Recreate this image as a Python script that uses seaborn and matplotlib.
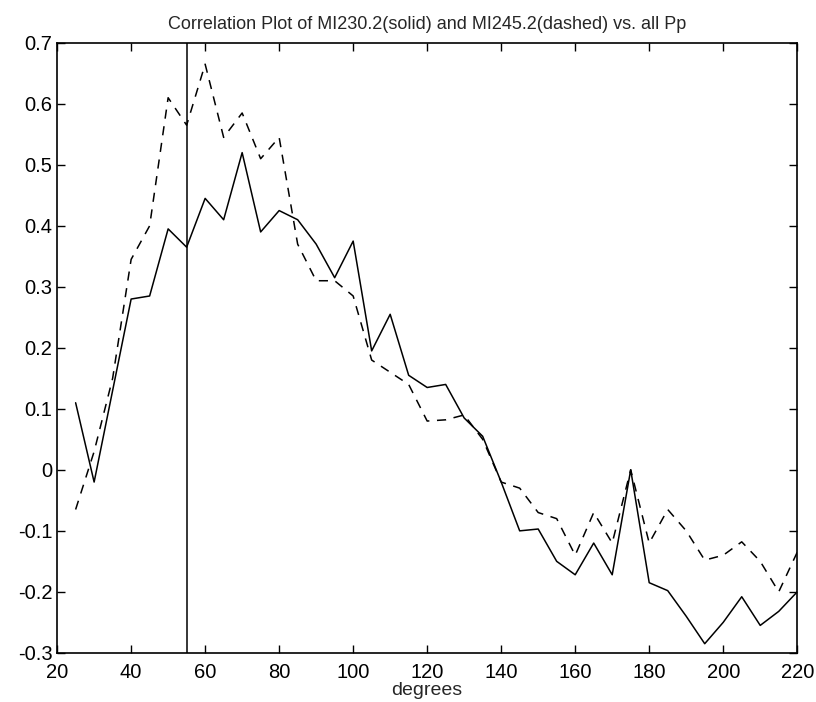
import matplotlib
matplotlib.use("Agg")
import matplotlib.pyplot as plt
import pandas as pd
import seaborn as sns

degrees = list(range(25, 225, 5))

# MI230.2 (solid)
mi230 = [0.11, -0.02, 0.13, 0.28, 0.285, 0.395, 0.365, 0.445, 0.41, 0.52,
         0.39, 0.425, 0.41, 0.37, 0.315, 0.375, 0.195, 0.255, 0.155, 0.135,
         0.14, 0.085, 0.055, -0.02, -0.10, -0.097, -0.15, -0.172, -0.12, -0.172,
         0.0, -0.185, -0.198, -0.24, -0.285, -0.25, -0.208, -0.255, -0.232, -0.2]

# MI245.2 (dashed)
mi245 = [-0.065, 0.03, 0.15, 0.345, 0.40, 0.61, 0.565, 0.665, 0.545, 0.585,
         0.51, 0.545, 0.37, 0.31, 0.31, 0.285, 0.18, 0.16, 0.14, 0.08,
         0.082, 0.09, 0.05, -0.02, -0.03, -0.07, -0.08, -0.14, -0.07, -0.12,
         0.0, -0.12, -0.065, -0.1, -0.148, -0.14, -0.118, -0.15, -0.2, -0.135]

marker_deg = 55

df = pd.DataFrame({'degrees': degrees, 'MI230.2': mi230, 'MI245.2': mi245})

sns.set_style('ticks')
plt.rcParams['font.family'] = ['Liberation Sans', 'DejaVu Sans']

fig = plt.figure(figsize=(8.16, 7.02), dpi=100)
ax = fig.add_axes([0.070, 0.070, 0.907, 0.869])

sns.lineplot(data=df, x='degrees', y='MI230.2', ax=ax, color='black', linewidth=1.1)
sns.lineplot(data=df, x='degrees', y='MI245.2', ax=ax, color='black', linewidth=1.1,
             linestyle=(0, (6, 5)))
ax.axvline(marker_deg, color='black', linewidth=1.1)

ax.set_xlim(20, 220)
ax.set_ylim(-0.3, 0.7)
ax.set_xticks(range(20, 221, 20))
ax.set_yticks([-0.3, -0.2, -0.1, 0, 0.1, 0.2, 0.3, 0.4, 0.5, 0.6, 0.7])
ax.set_yticklabels(['-0.3', '-0.2', '-0.1', '0', '0.1', '0.2', '0.3', '0.4', '0.5', '0.6', '0.7'])
ax.tick_params(direction='in', top=True, right=True, length=6, width=1,
               labelsize=14.5, colors='black')
ax.tick_params(axis='x', pad=7)
for s in ax.spines.values():
    s.set_visible(True)
    s.set_linewidth(1.2)
    s.set_color('black')

ax.set_xlabel('degrees', fontsize=14, labelpad=0)
ax.set_ylabel('')
ax.set_title('Correlation Plot of MI230.2(solid) and MI245.2(dashed) vs. all Pp',
             fontsize=13, pad=10)

fig.savefig('out.png', dpi=100)
